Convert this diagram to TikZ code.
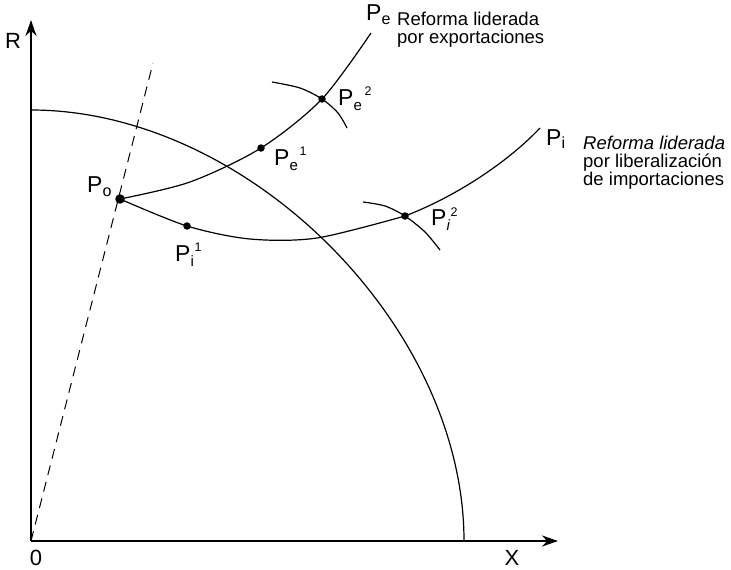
\documentclass[tikz,border=0pt]{standalone}
\usepackage{fontspec}
\setmainfont{Liberation Sans}
\usetikzlibrary{arrows.meta}
\newcommand{\PL}[4]{P\rlap{\raisebox{-0.22em}{\fontsize{15}{15}\selectfont #1}}\rlap{\hspace{#3}\raisebox{0.42em}{\fontsize{12.5}{12.5}\selectfont #2}}\hspace{#4}}
\begin{document}
\begin{tikzpicture}[x=1pt,y=-1pt,
  axis/.style={line width=2.6pt,-{Stealth[length=16pt,width=11pt]}},
  curve/.style={line width=1.2pt},
  ptdot/.style={circle,fill=black,inner sep=0pt,minimum size=7.5pt},
  plabel/.style={font=\fontsize{23}{23}\selectfont,inner sep=0pt},
  albl/.style={font=\fontsize{22}{22}\selectfont,inner sep=0pt},
  note/.style={font=\fontsize{18.5}{18}\selectfont,align=left,inner sep=0pt,anchor=north west}]
\useasboundingbox (0,0) rectangle (731,570);
\coordinate (O) at (31,541);
\coordinate (Ytop) at (31,20);
\coordinate (Xend) at (558,541);
\coordinate (Dtop) at (153,63);
% dashed ray
\draw[line width=1pt,dash pattern=on 10pt off 7pt] (O) -- (Dtop);
% frontier
\draw[curve] (31,110) .. controls (247.5,110) and (464,325.5) .. (464,541);
% axes
\draw[axis] (O) -- (Ytop);
\draw[axis] (O) -- (Xend);
% Pe path
\draw[curve] plot[smooth] coordinates {(120,199) (190,182) (261,148) (322,99) (371,33)};
% Pi path
\draw[curve] plot[smooth] coordinates {(120,199) (187,226) (250,239) (317,238) (405,216)}
  .. controls (452,198) and (505,165) .. (540,128);
% small arcs
\draw[curve] plot[smooth] coordinates {(272,82) (300,88) (322,99) (338,113) (347,128)};
\draw[curve] plot[smooth] coordinates {(363,202) (385,206) (405,216) (425,232) (440,250)};
% points
\node[ptdot,minimum size=9.5pt] (P0) at (120,199) {};
\node[ptdot] (Pe1) at (261,148) {};
\node[ptdot] (Pe2) at (322,99) {};
\node[ptdot] (Pi1) at (187,226) {};
\node[ptdot] (Pi2) at (405,216) {};
% labels
\node[albl] (R) at (13,41) {R};
\node[albl] (zero) at (36,558) {0};
\node[albl] (X) at (512,558) {X};
\node[plabel,anchor=west] (lP0) at (87,187) {P\textsubscript{o}};
\node[plabel,anchor=west] (lPi1) at (175,255) {\PL{i}{1}{4pt}{9pt}};
\node[plabel,anchor=west] (lPe1) at (274,159) {\PL{e}{1}{10pt}{17pt}};
\node[plabel,anchor=west] (lPe2) at (338,99) {\PL{e}{2}{11pt}{18pt}};
\node[plabel,anchor=west] (lPi2) at (431,219) {\PL{\itshape i}{2}{4pt}{10pt}};
\node[plabel,anchor=west] (lPe) at (366,15) {P\textsubscript{e}};
\node[plabel,anchor=west] (lPi) at (546,139) {P\textsubscript{i}};
\node[note] (t1) at (397,12) {Reforma liderada\\por exportaciones};
\node[note] (t2) at (583,136) {\itshape Reforma liderada\\\upshape por liberalización\\de importaciones};
\end{tikzpicture}
\end{document}
